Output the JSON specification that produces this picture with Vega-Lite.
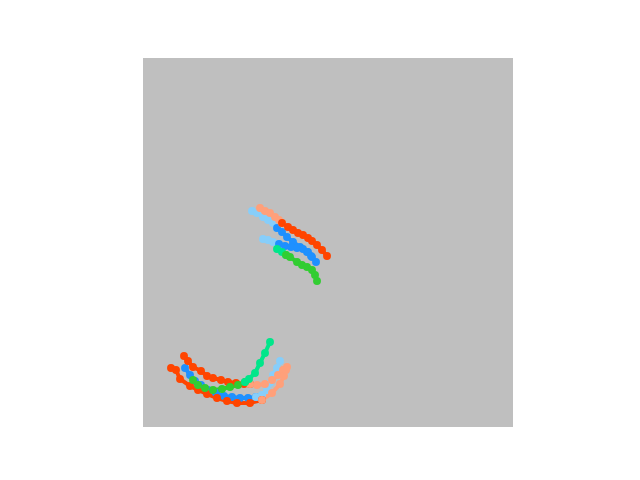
{
  "$schema": "https://vega.github.io/schema/vega-lite/v6.json",
  "width": 370,
  "height": 369,
  "autosize": {"type": "none"},
  "padding": {"left": 143, "top": 58, "right": 127, "bottom": 53},
  "background": "white",
  "config": {"view": {"stroke": null, "fill": "#bfbfbf"}},
  "data": {"values": [
    {"s": "LB1", "k": "blue", "i": 0, "x": 42, "y": 59},
    {"s": "LB1", "k": "blue", "i": 1, "x": 47, "y": 52},
    {"s": "LB1", "k": "blue", "i": 2, "x": 52, "y": 46},
    {"s": "LB1", "k": "blue", "i": 3, "x": 58, "y": 42},
    {"s": "LB1", "k": "blue", "i": 4, "x": 65, "y": 37},
    {"s": "LB1", "k": "blue", "i": 5, "x": 73, "y": 34},
    {"s": "LB1", "k": "blue", "i": 6, "x": 81, "y": 31},
    {"s": "LB1", "k": "blue", "i": 7, "x": 89, "y": 30},
    {"s": "LB1", "k": "blue", "i": 8, "x": 97, "y": 29},
    {"s": "LB1", "k": "blue", "i": 9, "x": 105, "y": 29},
    {"s": "LB1", "k": "blue", "i": 10, "x": 113, "y": 30},
    {"s": "LB2", "k": "lightblue", "i": 0, "x": 113, "y": 30},
    {"s": "LB2", "k": "lightblue", "i": 1, "x": 119, "y": 32},
    {"s": "LB2", "k": "lightblue", "i": 2, "x": 124, "y": 37},
    {"s": "LB2", "k": "lightblue", "i": 3, "x": 127, "y": 44},
    {"s": "LB2", "k": "lightblue", "i": 4, "x": 130, "y": 52},
    {"s": "LB2", "k": "lightblue", "i": 5, "x": 134, "y": 59},
    {"s": "LB2", "k": "lightblue", "i": 6, "x": 137, "y": 66},
    {"s": "UB1", "k": "lightblue", "i": 0, "x": 109, "y": 216},
    {"s": "UB1", "k": "lightblue", "i": 1, "x": 114, "y": 214},
    {"s": "UB1", "k": "lightblue", "i": 2, "x": 120, "y": 210},
    {"s": "UB1", "k": "lightblue", "i": 3, "x": 125, "y": 207},
    {"s": "UB1", "k": "lightblue", "i": 4, "x": 130, "y": 204},
    {"s": "UB1", "k": "lightblue", "i": 5, "x": 134, "y": 199},
    {"s": "UB2", "k": "blue", "i": 0, "x": 134, "y": 199},
    {"s": "UB2", "k": "blue", "i": 1, "x": 139, "y": 195},
    {"s": "UB2", "k": "blue", "i": 2, "x": 144, "y": 190},
    {"s": "UB2", "k": "blue", "i": 3, "x": 150, "y": 185},
    {"s": "UB2", "k": "blue", "i": 4, "x": 157, "y": 180},
    {"s": "UB2", "k": "blue", "i": 5, "x": 164, "y": 175},
    {"s": "UB2", "k": "blue", "i": 6, "x": 169, "y": 170},
    {"s": "UB2", "k": "blue", "i": 7, "x": 173, "y": 165},
    {"s": "UB3", "k": "lightblue", "i": 0, "x": 120, "y": 188},
    {"s": "UB3", "k": "lightblue", "i": 1, "x": 125, "y": 187},
    {"s": "UB3", "k": "lightblue", "i": 2, "x": 130, "y": 185},
    {"s": "UB3", "k": "lightblue", "i": 3, "x": 136, "y": 183},
    {"s": "UB4", "k": "blue", "i": 0, "x": 136, "y": 183},
    {"s": "UB4", "k": "blue", "i": 1, "x": 142, "y": 181},
    {"s": "UB4", "k": "blue", "i": 2, "x": 148, "y": 180},
    {"s": "UB4", "k": "blue", "i": 3, "x": 154, "y": 179},
    {"s": "UB4", "k": "blue", "i": 4, "x": 160, "y": 178},
    {"s": "UB4", "k": "blue", "i": 5, "x": 165, "y": 175},
    {"s": "UB4", "k": "blue", "i": 6, "x": 168, "y": 171},
    {"s": "LO1", "k": "orange", "i": 0, "x": 41, "y": 71},
    {"s": "LO1", "k": "orange", "i": 1, "x": 45, "y": 66},
    {"s": "LO1", "k": "orange", "i": 2, "x": 50, "y": 60},
    {"s": "LO1", "k": "orange", "i": 3, "x": 58, "y": 56},
    {"s": "LO1", "k": "orange", "i": 4, "x": 64, "y": 51},
    {"s": "LO1", "k": "orange", "i": 5, "x": 70, "y": 49},
    {"s": "LO1", "k": "orange", "i": 6, "x": 78, "y": 47},
    {"s": "LO1", "k": "orange", "i": 7, "x": 85, "y": 45},
    {"s": "LO1", "k": "orange", "i": 8, "x": 93, "y": 44},
    {"s": "LO1", "k": "orange", "i": 9, "x": 101, "y": 43},
    {"s": "LO1", "k": "orange", "i": 10, "x": 107, "y": 43},
    {"s": "LO2", "k": "salmon", "i": 0, "x": 107, "y": 43},
    {"s": "LO2", "k": "salmon", "i": 1, "x": 114, "y": 42},
    {"s": "LO2", "k": "salmon", "i": 2, "x": 122, "y": 43},
    {"s": "LO2", "k": "salmon", "i": 3, "x": 129, "y": 47},
    {"s": "LO2", "k": "salmon", "i": 4, "x": 135, "y": 52},
    {"s": "LO2", "k": "salmon", "i": 5, "x": 140, "y": 57},
    {"s": "LO2", "k": "salmon", "i": 6, "x": 144, "y": 60},
    {"s": "LO3", "k": "orange", "i": 0, "x": 28, "y": 59},
    {"s": "LO3", "k": "orange", "i": 1, "x": 33, "y": 57},
    {"s": "LO3", "k": "orange", "i": 2, "x": 37, "y": 48},
    {"s": "LO3", "k": "orange", "i": 3, "x": 47, "y": 41},
    {"s": "LO3", "k": "orange", "i": 4, "x": 55, "y": 37},
    {"s": "LO3", "k": "orange", "i": 5, "x": 64, "y": 33},
    {"s": "LO3", "k": "orange", "i": 6, "x": 74, "y": 29},
    {"s": "LO3", "k": "orange", "i": 7, "x": 84, "y": 26},
    {"s": "LO3", "k": "orange", "i": 8, "x": 94, "y": 24},
    {"s": "LO3", "k": "orange", "i": 9, "x": 107, "y": 24},
    {"s": "LO3", "k": "orange", "i": 10, "x": 119, "y": 27},
    {"s": "LO4", "k": "salmon", "i": 0, "x": 119, "y": 27},
    {"s": "LO4", "k": "salmon", "i": 1, "x": 129, "y": 34},
    {"s": "LO4", "k": "salmon", "i": 2, "x": 137, "y": 43},
    {"s": "LO4", "k": "salmon", "i": 3, "x": 141, "y": 51},
    {"s": "LO4", "k": "salmon", "i": 4, "x": 143, "y": 57},
    {"s": "UO1", "k": "salmon", "i": 0, "x": 117, "y": 219},
    {"s": "UO1", "k": "salmon", "i": 1, "x": 122, "y": 216},
    {"s": "UO1", "k": "salmon", "i": 2, "x": 127, "y": 214},
    {"s": "UO1", "k": "salmon", "i": 3, "x": 132, "y": 210},
    {"s": "UO1", "k": "salmon", "i": 4, "x": 136, "y": 207},
    {"s": "UO1", "k": "salmon", "i": 5, "x": 139, "y": 204},
    {"s": "UO2", "k": "orange", "i": 0, "x": 139, "y": 204},
    {"s": "UO2", "k": "orange", "i": 1, "x": 145, "y": 200},
    {"s": "UO2", "k": "orange", "i": 2, "x": 150, "y": 197},
    {"s": "UO2", "k": "orange", "i": 3, "x": 155, "y": 194},
    {"s": "UO2", "k": "orange", "i": 4, "x": 160, "y": 192},
    {"s": "UO2", "k": "orange", "i": 5, "x": 165, "y": 189},
    {"s": "UO2", "k": "orange", "i": 6, "x": 169, "y": 186},
    {"s": "UO2", "k": "orange", "i": 7, "x": 174, "y": 182},
    {"s": "UO2", "k": "orange", "i": 8, "x": 179, "y": 177},
    {"s": "UO2", "k": "orange", "i": 9, "x": 184, "y": 171},
    {"s": "LG1", "k": "green", "i": 0, "x": 50, "y": 47},
    {"s": "LG1", "k": "green", "i": 1, "x": 55, "y": 42},
    {"s": "LG1", "k": "green", "i": 2, "x": 62, "y": 39},
    {"s": "LG1", "k": "green", "i": 3, "x": 70, "y": 37},
    {"s": "LG1", "k": "green", "i": 4, "x": 79, "y": 38},
    {"s": "LG1", "k": "green", "i": 5, "x": 87, "y": 40},
    {"s": "LG1", "k": "green", "i": 6, "x": 95, "y": 42},
    {"s": "LG1", "k": "green", "i": 7, "x": 102, "y": 45},
    {"s": "LG2", "k": "springgreen", "i": 0, "x": 102, "y": 45},
    {"s": "LG2", "k": "springgreen", "i": 1, "x": 106, "y": 48},
    {"s": "LG2", "k": "springgreen", "i": 2, "x": 112, "y": 54},
    {"s": "LG2", "k": "springgreen", "i": 3, "x": 117, "y": 64},
    {"s": "LG2", "k": "springgreen", "i": 4, "x": 122, "y": 74},
    {"s": "LG2", "k": "springgreen", "i": 5, "x": 127, "y": 85},
    {"s": "UG1", "k": "springgreen", "i": 0, "x": 134, "y": 178},
    {"s": "UG1", "k": "springgreen", "i": 1, "x": 139, "y": 175},
    {"s": "UG1", "k": "springgreen", "i": 2, "x": 143, "y": 172},
    {"s": "UG2", "k": "green", "i": 0, "x": 143, "y": 172},
    {"s": "UG2", "k": "green", "i": 1, "x": 147, "y": 170},
    {"s": "UG2", "k": "green", "i": 2, "x": 154, "y": 165},
    {"s": "UG2", "k": "green", "i": 3, "x": 159, "y": 162},
    {"s": "UG2", "k": "green", "i": 4, "x": 164, "y": 160},
    {"s": "UG2", "k": "green", "i": 5, "x": 169, "y": 157},
    {"s": "UG2", "k": "green", "i": 6, "x": 172, "y": 152},
    {"s": "UG2", "k": "green", "i": 7, "x": 174, "y": 146}
  ]},
  "encoding": {
    "x": {"field": "x", "type": "quantitative", "scale": {"domain": [0, 370]}, "axis": null},
    "y": {"field": "y", "type": "quantitative", "scale": {"domain": [0, 369]}, "axis": null},
    "color": {
      "field": "k", "type": "nominal", "legend": null,
      "scale": {
        "domain": ["blue", "lightblue", "orange", "salmon", "green", "springgreen"],
        "range": ["#1e90ff", "#87cefa", "#ff4500", "#ffa07a", "#32cd32", "#00e68a"]
      }
    }
  },
  "layer": [
    {
      "mark": {"type": "line", "strokeWidth": 4, "clip": true},
      "encoding": {"detail": {"field": "s"}, "order": {"field": "i"}}
    },
    {
      "mark": {"type": "point", "filled": true, "opacity": 1, "size": 62, "clip": true}
    }
  ]
}
